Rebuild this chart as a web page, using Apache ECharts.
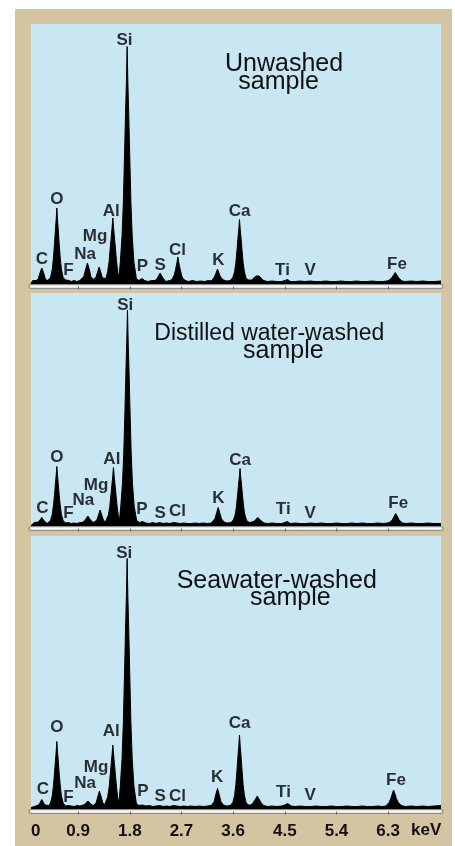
<!DOCTYPE html>
<html>
<head>
<meta charset="utf-8">
<script src="https://cdn.jsdelivr.net/npm/echarts@6/dist/echarts.min.js"></script>
<style>
  html, body { margin: 0; padding: 0; background: #ffffff; width: 455px; height: 846px; overflow: hidden; }
  #frame { position: absolute; left: 15px; top: 9px; width: 437px; height: 837px; background: #d5c4a1; }
  #chart { position: absolute; left: 0; top: 0; width: 455px; height: 846px; }
</style>
</head>
<body>
<div id="frame"></div>
<div id="chart"></div>
<script>
// ---------------- DATA ----------------
const xMin = 0.08, xMax = 7.22;                       // keV shown
const tickValues = [0.9, 1.8, 2.7, 3.6, 4.5, 5.4, 6.3];
const tickLabels = ['0', '0.9', '1.8', '2.7', '3.6', '4.5', '5.4', '6.3'];
const axisUnit = 'keV';

const panelTitles = [
  ['Unwashed', 'sample'],
  ['Distilled water-washed', 'sample'],
  ['Seawater-washed', 'sample']
];

const elements = ['C', 'O', 'F', 'Na', 'Mg', 'Al', 'Si', 'P', 'S', 'Cl', 'K', 'Ca', 'Ti', 'V', 'Fe'];

// label anchor positions (energy keV, height in counts units of each panel)
const labelEnergyUnwashed = [0.268, 0.53, 0.732, 1.023, 1.197, 1.476, 1.707, 2.021, 2.329, 2.631, 3.345, 3.711, 4.46, 4.943, 6.453];
const labelHeightUnwashed = [27.5, 87.5, 15.8, 32.5, 49.8, 75.5, 246.5, 19.8, 21.5, 36.5, 26, 75.5, 16.5, 15.8, 22.2];
const labelEnergyDistilled = [0.279, 0.53, 0.732, 0.993, 1.214, 1.488, 1.72, 2.01, 2.329, 2.631, 3.345, 3.723, 4.472, 4.943, 6.476];
const labelHeightDistilled = [20.2, 71.2, 15.2, 27.8, 43.5, 69.2, 223.5, 19.2, 15.2, 16.8, 30.2, 68.5, 19.5, 15.5, 25.5];
const labelEnergySeawater = [0.286, 0.53, 0.732, 1.023, 1.214, 1.476, 1.704, 2.028, 2.329, 2.631, 3.322, 3.711, 4.477, 4.943, 6.436];
const labelHeightSeawater = [22.2, 84.2, 14.2, 28.2, 43.8, 79.8, 258.2, 19.8, 15.5, 15.5, 33.8, 88.2, 19, 16.5, 31.5];

// spectra: [energy keV, counts (arbitrary units)]
const spectrumUnwashed = [
  [0.08,3],[0.11,6],[0.14,5],[0.17,6],
  [0.205,7.4],[0.238,13.9],[0.268,18.5],[0.298,13.9],[0.33,7.4],[0.37,6],
  [0.39,6.5],[0.42,9],[0.45,17],[0.47,28],[0.49,43.2],[0.505,56.5],[0.518,66.7],[0.53,78.5],[0.542,66.7],[0.555,56.5],[0.57,43.2],[0.59,28],[0.61,17],[0.64,9],[0.68,6.5],
  [0.71,8],[0.74,6],[0.78,5],[0.83,6],[0.88,5],[0.93,6],
  [0.96,6.5],[1.0,10],[1.033,17.6],[1.063,23.5],[1.093,17.6],[1.123,10],[1.16,7],
  [1.19,7],[1.21,9],[1.24,14.6],[1.267,19.5],[1.294,14.6],[1.324,8.5],[1.355,7],
  [1.385,8],[1.415,15],[1.44,25],[1.46,38.5],[1.477,49.3],[1.491,58.2],[1.505,68.5],[1.519,58.2],[1.533,49.3],[1.55,38.5],[1.57,25],[1.592,13.7],
  [1.612,10],
  [1.635,24],[1.665,50],[1.688,84],[1.709,132],[1.726,172.8],[1.741,204],[1.754,240],[1.767,204],[1.782,172.8],[1.799,132],[1.82,84],[1.843,50],[1.873,24],[1.915,8],
  [1.96,6],[2.01,8],[2.06,6],[2.12,5],[2.18,6],
  [2.24,6],[2.275,8],[2.305,11],[2.329,13.5],[2.353,11],[2.383,8],[2.43,5],[2.49,6],
  [2.53,6.5],[2.553,8],[2.575,11.5],[2.597,17],[2.612,21.2],[2.625,25],[2.638,29.5],[2.651,25],[2.664,21.2],[2.679,17],[2.701,11.5],[2.723,8],[2.77,6],
  [2.82,5],[2.89,6],[2.96,5],[3.03,5.5],[3.1,5],[3.17,6],[3.22,5.5],
  [3.24,6.5],[3.275,9.5],[3.303,13.5],[3.328,17.5],[3.353,13.5],[3.381,9.5],[3.43,6.5],[3.49,5.5],[3.55,6],
  [3.56,7],[3.595,9],[3.625,14.5],[3.648,24],[3.668,36.9],[3.684,48.2],[3.698,57],[3.711,67],[3.724,57],[3.738,48.2],[3.754,36.9],[3.774,24],[3.797,14.5],[3.827,8],[3.87,6.5],
  [3.92,6.5],[3.96,8.5],[3.995,10.5],[4.024,12],[4.053,10.5],[4.088,8.5],[4.13,6],
  [4.2,5],[4.28,5.5],[4.36,5],[4.44,5],
  [4.5,6],[4.547,7],[4.6,5],
  [4.68,5],[4.76,5.5],[4.85,5],[4.94,5.5],[5.03,5],[5.12,5],[5.21,5.5],[5.3,5],[5.39,5],[5.48,5.5],[5.57,5],[5.66,5],[5.75,5.5],[5.84,5],[5.93,5],[6.02,5.5],[6.11,5],[6.2,5],[6.28,5.5],
  [6.32,6.5],[6.36,8.5],[6.395,11.5],[6.423,14],[6.451,12],[6.485,8.5],[6.54,5.5],
  [6.6,5],[6.7,5.5],[6.8,5],[6.9,5.5],[7.0,5],[7.1,5],[7.22,5.5]
];

const spectrumDistilled = [
  [0.08,3],[0.11,5],[0.14,6],[0.17,5],
  [0.21,6.5],[0.24,8.5],[0.268,11],[0.296,8.5],[0.326,6.5],[0.36,5],
  [0.39,6],[0.42,8],[0.45,14],[0.47,22.5],[0.49,34.1],[0.505,44.6],[0.518,52.7],[0.53,62],[0.542,52.7],[0.555,44.6],[0.57,34.1],[0.59,22.5],[0.61,14],[0.64,8],[0.68,5.5],
  [0.73,6],[0.78,5],[0.83,5.5],[0.88,5],[0.93,6],
  [0.97,6],[1.01,7.5],[1.04,10],[1.07,12.5],[1.1,10],[1.13,7.5],[1.17,6],
  [1.2,6.5],[1.228,8.5],[1.258,13.9],[1.284,18.5],[1.31,13.9],[1.34,8.5],[1.375,6.5],
  [1.398,7.5],[1.428,13.5],[1.452,22],[1.472,33.6],[1.489,43.9],[1.503,51.9],[1.516,61],[1.529,51.9],[1.543,43.9],[1.56,33.6],[1.58,22],[1.602,12.5],
  [1.623,9],
  [1.643,22],[1.673,45],[1.696,76.5],[1.717,120.2],[1.733,157.3],[1.747,185.7],[1.76,218.5],[1.773,185.7],[1.787,157.3],[1.803,120.2],[1.824,76.5],[1.847,45],[1.877,22],[1.92,8],
  [1.97,6],[2.02,7],[2.08,5.5],[2.14,5],[2.2,6],[2.26,5],[2.32,6],[2.38,5],[2.44,5.5],[2.5,5],[2.56,6],[2.62,5.5],[2.68,5],[2.74,5.5],[2.8,5],[2.87,5],[2.94,5.5],[3.01,5],[3.08,5.5],[3.15,5],[3.22,5.5],
  [3.25,6.5],[3.285,10],[3.313,15.8],[3.34,21],[3.367,15.8],[3.395,10],[3.44,6.5],[3.5,5.5],[3.56,6],
  [3.57,6.5],[3.605,8.5],[3.635,13.5],[3.657,21.5],[3.677,33],[3.693,43.2],[3.707,51],[3.72,60],[3.733,51],[3.747,43.2],[3.763,33],[3.783,21.5],[3.805,13.5],[3.835,8],[3.88,6],
  [3.93,6.5],[3.97,7.5],[4.003,9],[4.03,11],[4.057,9],[4.09,7.5],[4.14,5.5],
  [4.2,5],[4.28,5.5],[4.36,5],[4.44,5],
  [4.5,6],[4.54,7],[4.6,5],
  [4.68,5.5],[4.77,5],[4.86,5],[4.95,5.5],[5.04,5],[5.13,5.5],[5.22,5],[5.31,5],[5.4,5.5],[5.49,5],[5.58,5],[5.67,5.5],[5.76,5],[5.85,5.5],[5.94,5],[6.03,5],[6.12,5.5],[6.21,5],[6.29,5.5],
  [6.33,6.5],[6.37,8.5],[6.403,12],[6.43,15],[6.457,12.5],[6.49,8.5],[6.55,5.5],
  [6.61,5],[6.7,5.5],[6.8,5],[6.9,5],[7.0,5.5],[7.1,5],[7.22,5]
];

const spectrumSeawater = [
  [0.08,4],[0.11,6],[0.14,5],[0.17,5.5],
  [0.21,6.5],[0.24,9],[0.268,12],[0.296,9],[0.326,6.5],[0.36,5],
  [0.39,6],[0.42,8.5],[0.45,15.5],[0.47,25.5],[0.49,38.5],[0.505,50.4],[0.518,59.5],[0.53,70],[0.542,59.5],[0.555,50.4],[0.57,38.5],[0.59,25.5],[0.61,15.5],[0.64,8.5],[0.68,5.5],
  [0.73,6],[0.78,5.5],[0.83,5],[0.88,6],[0.93,5.5],
  [0.97,6],[1.01,7],[1.04,8.5],[1.07,10.5],[1.1,8.5],[1.13,7],[1.17,6],
  [1.19,6.5],[1.216,9],[1.246,15.4],[1.272,20.5],[1.298,15.4],[1.328,9],[1.36,6.5],
  [1.385,7.5],[1.415,14.5],[1.44,24],[1.46,36.6],[1.477,47.9],[1.491,56.5],[1.505,66.5],[1.519,56.5],[1.533,47.9],[1.55,36.6],[1.57,24],[1.592,13],
  [1.612,9.5],
  [1.635,25],[1.665,52],[1.688,88.6],[1.709,139.2],[1.726,182.2],[1.741,215],[1.754,253],[1.767,215],[1.782,182.2],[1.799,139.2],[1.82,88.6],[1.843,52],[1.873,25],[1.915,8],
  [1.96,6],[2.02,6.5],[2.08,5.5],[2.14,6],[2.2,5],[2.26,5.5],[2.32,6],[2.38,5],[2.44,5.5],[2.5,5],[2.56,6],[2.62,5.5],[2.68,5],[2.74,5.5],[2.8,5],[2.87,5.5],[2.94,5],[3.01,5.5],[3.08,5],[3.15,5.5],[3.22,6],
  [3.235,6.5],[3.27,10],[3.3,17.3],[3.328,23],[3.356,17.3],[3.386,10],[3.43,6.5],[3.49,5.5],[3.55,6],
  [3.56,7],[3.595,9],[3.625,16],[3.648,27],[3.668,42.1],[3.684,55.1],[3.698,65],[3.711,76.5],[3.724,65],[3.738,55.1],[3.754,42.1],[3.774,27],[3.797,16],[3.827,8.5],[3.87,6.5],
  [3.91,6.5],[3.95,9],[3.99,12.5],[4.02,15.5],[4.05,12.5],[4.085,9],[4.13,6],
  [4.2,5],[4.28,5.5],[4.36,5],[4.44,5.5],
  [4.5,6.5],[4.55,8],[4.61,5.5],
  [4.68,5],[4.77,5.5],[4.86,5],[4.95,5],[5.04,5.5],[5.13,5],[5.22,5],[5.31,5.5],[5.4,5],[5.49,5],[5.58,5.5],[5.67,5],[5.76,5],[5.85,5.5],[5.94,5],[6.03,5],[6.12,5.5],[6.2,5],[6.26,5.5],
  [6.28,6.5],[6.315,9],[6.345,13],[6.372,17.5],[6.394,21.5],[6.416,18],[6.443,13],[6.475,9],[6.53,6],
  [6.6,5],[6.7,5.5],[6.8,5],[6.9,5.5],[7.0,5],[7.1,5.5],[7.22,6]
];

// ---------------- LAYOUT ----------------
const panels = [
  { spectrum: spectrumUnwashed, lE: labelEnergyUnwashed, lH: labelHeightUnwashed,
    top: 24, height: 262.5, yMax: 262.5, t: [[225, 52, 25], [238.3, 69.4, 25]] },
  { spectrum: spectrumDistilled, lE: labelEnergyDistilled, lH: labelHeightDistilled,
    top: 293, height: 235.5, yMax: 235.5, t: [[154.3, 322.4, 23], [243, 338.7, 25]] },
  { spectrum: spectrumSeawater, lE: labelEnergySeawater, lH: labelHeightSeawater,
    top: 536, height: 275.5, yMax: 275.5, t: [[176.7, 568.7, 25], [250, 586, 25]] }
];

const BLUE = '#c8e7f2';
const LABEL_FONT = 'Liberation Sans';

const labelValues = [xMin].concat(tickValues);

const grid = [], xAxis = [], yAxis = [], series = [], title = [];
panels.forEach((p, i) => {
  grid.push({ left: 31, right: 14, top: p.top, height: p.height, show: true,
              backgroundColor: BLUE, borderWidth: 0, containLabel: false });
  const isLast = i === panels.length - 1;
  // grey outer axis line
  xAxis.push({
    gridIndex: i, type: 'value', position: 'bottom', min: xMin, max: xMax, z: 3,
    axisLine: { show: true, lineStyle: { color: '#8d8d8d', width: 5 } },
    axisTick: { show: false },
    splitLine: { show: false },
    axisLabel: isLast ? {
      show: true, customValues: labelValues, margin: 11, alignMinLabel: 'left',
      fontFamily: LABEL_FONT, fontWeight: 'bold', fontSize: 17, color: '#111',
      formatter: v => { const k = labelValues.findIndex(t => Math.abs(t - v) < 1e-6); return k >= 0 ? tickLabels[k] : ''; }
    } : { show: false }
  });
  // inner white band with ticks
  xAxis.push({
    gridIndex: i, type: 'value', position: 'bottom', offset: 0, min: xMin, max: xMax, z: 4,
    axisLine: { show: true, lineStyle: { color: '#ffffff', width: 2.5 } },
    axisTick: { show: true, customValues: tickValues, length: 3, inside: false,
                lineStyle: { color: '#666', width: 1 } },
    splitLine: { show: false },
    axisLabel: { show: false }
  });
  yAxis.push({ gridIndex: i, type: 'value', min: 0, max: p.yMax, show: false,
               splitLine: { show: false } });
  series.push({
    type: 'line', name: panelTitles[i].join(' '), xAxisIndex: 2 * i, yAxisIndex: i,
    data: p.spectrum, showSymbol: false, symbol: 'none', smooth: false,
    lineStyle: { color: '#000', width: 1 }, areaStyle: { color: '#000', opacity: 1 },
    silent: true, z: 2
  });
  series.push({
    type: 'scatter', xAxisIndex: 2 * i, yAxisIndex: i, symbolSize: 1,
    itemStyle: { color: 'rgba(0,0,0,0)' }, silent: true, z: 6,
    data: elements.map((el, k) => [p.lE[k], p.lH[k], el]),
    label: { show: true, position: 'inside', formatter: q => q.value[2],
             fontFamily: LABEL_FONT, fontWeight: 'bold', fontSize: 17, color: '#000',
             textBorderWidth: 0 }
  });
  panelTitles[i].forEach((txt, j) => {
    title.push({ text: txt, left: p.t[j][0], top: p.t[j][1], padding: 0,
                 textStyle: { fontFamily: LABEL_FONT, fontWeight: 'normal', fontSize: p.t[j][2], color: '#111' } });
  });
});
// axis unit text next to the last tick label
title.push({ text: axisUnit, left: 411, top: 821.5, padding: 0,
             textStyle: { fontFamily: LABEL_FONT, fontWeight: 'bold', fontSize: 17, color: '#111' } });

const chart = echarts.init(document.getElementById('chart'), null, { renderer: 'canvas' });
chart.setOption({ animation: false, backgroundColor: 'transparent', title, grid, xAxis, yAxis, series });
</script>
</body>
</html>
